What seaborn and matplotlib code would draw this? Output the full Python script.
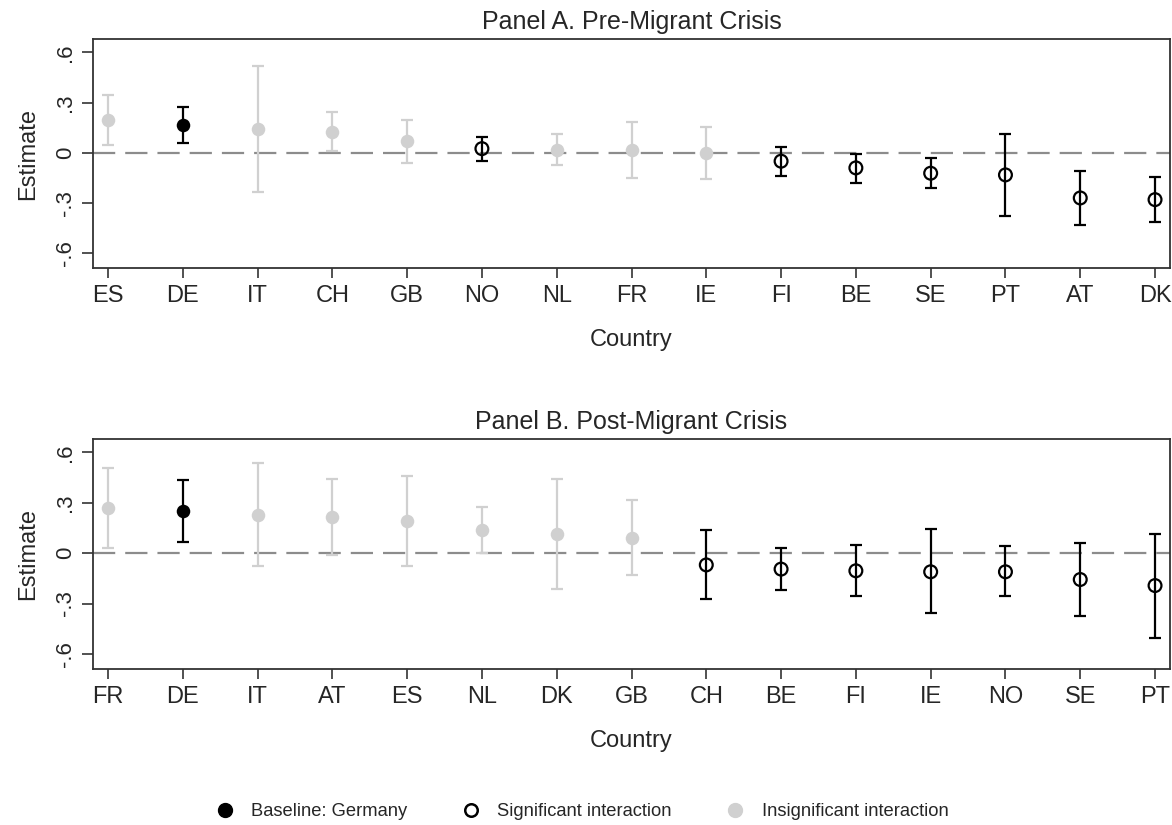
import numpy as np
import pandas as pd
import matplotlib
matplotlib.use("Agg")
import matplotlib.pyplot as plt
from matplotlib.lines import Line2D
import seaborn as sns

# Panel A: pre-migrant crisis estimates with 95% CIs
countries_a = ["ES", "DE", "IT", "CH", "GB", "NO", "NL", "FR", "IE", "FI", "BE", "SE", "PT", "AT", "DK"]
est_a = [0.196, 0.164, 0.139, 0.125, 0.067, 0.024, 0.018, 0.014, -0.002, -0.051, -0.091, -0.123, -0.133, -0.271, -0.281]
lo_a = [0.046, 0.055, -0.236, 0.008, -0.063, -0.051, -0.071, -0.154, -0.158, -0.137, -0.182, -0.214, -0.380, -0.432, -0.416]
hi_a = [0.345, 0.275, 0.517, 0.242, 0.198, 0.093, 0.109, 0.184, 0.154, 0.034, -0.006, -0.030, 0.113, -0.109, -0.143]
status_a = ["ins", "base", "ins", "ins", "ins", "sig", "ins", "ins", "ins", "sig", "sig", "sig", "sig", "sig", "sig"]

# Panel B: post-migrant crisis estimates with 95% CIs
countries_b = ["FR", "DE", "IT", "AT", "ES", "NL", "DK", "GB", "CH", "BE", "FI", "IE", "NO", "SE", "PT"]
est_b = [0.268, 0.250, 0.225, 0.215, 0.193, 0.137, 0.113, 0.093, -0.070, -0.095, -0.105, -0.111, -0.111, -0.157, -0.193]
lo_b = [0.030, 0.066, -0.079, -0.010, -0.074, 0.002, -0.213, -0.129, -0.274, -0.219, -0.258, -0.358, -0.258, -0.372, -0.503]
hi_b = [0.505, 0.435, 0.536, 0.441, 0.461, 0.272, 0.441, 0.316, 0.137, 0.028, 0.050, 0.145, 0.040, 0.060, 0.117]
status_b = ["ins", "base", "ins", "ins", "ins", "ins", "ins", "ins", "sig", "sig", "sig", "sig", "sig", "sig", "sig"]

y_ticks = [0.6, 0.3, 0.0, -0.3, -0.6]
y_ticklabels = [".6", ".3", "0", "-.3", "-.6"]

sns.set_style("white")
plt.rcParams["font.family"] = ["Liberation Sans", "DejaVu Sans"]
plt.rcParams["font.size"] = 16

GRAY = "#d0d0d0"
BLACK = "#000000"
AXIS = "#333333"

fig = plt.figure(figsize=(11.72, 8.25), dpi=100)
ax_a = fig.add_axes([93 / 1172, 1 - 268 / 825, (1170 - 93) / 1172, (268 - 39) / 825])
ax_b = fig.add_axes([93 / 1172, 1 - 669 / 825, (1170 - 93) / 1172, (669 - 439) / 825])


def draw_panel(ax, countries, est, lo, hi, status, title):
    df = pd.DataFrame({"country": countries, "est": est, "lo": lo, "hi": hi, "status": status})
    df["pos"] = np.arange(len(df))

    ax.axhline(0, color="#8c8c8c", lw=1.6, ls=(0, (10, 4.5)), zorder=1)

    for st, col in [("ins", GRAY), ("sig", BLACK), ("base", BLACK)]:
        sub = df[df["status"] == st]
        ax.errorbar(sub["pos"], sub["est"],
                    yerr=[sub["est"] - sub["lo"], sub["hi"] - sub["est"]],
                    fmt="none", ecolor=col, elinewidth=1.6, capsize=4.5, capthick=1.6, zorder=2)

    ins = df[df["status"] == "ins"]
    sns.scatterplot(data=ins, x="pos", y="est", ax=ax, s=95, color=GRAY,
                    edgecolor=GRAY, linewidth=0, zorder=3, legend=False)
    base = df[df["status"] == "base"]
    sns.scatterplot(data=base, x="pos", y="est", ax=ax, s=95, color=BLACK,
                    edgecolor=BLACK, linewidth=0, zorder=3, legend=False)
    sig = df[df["status"] == "sig"]
    sns.scatterplot(data=sig, x="pos", y="est", ax=ax, s=85, facecolor="none",
                    edgecolor=BLACK, linewidth=1.6, zorder=3, legend=False)

    ax.set_xlim(-0.2, len(df) - 1 + 0.2)
    ax.set_ylim(-0.69, 0.68)
    ax.set_xticks(df["pos"])
    ax.set_xticklabels(df["country"], fontsize=17)
    ax.set_yticks(y_ticks)
    ax.set_yticklabels(y_ticklabels, rotation=90, va="center", fontsize=16)
    ax.tick_params(axis="x", direction="out", length=7, width=1.2, color=AXIS, pad=5, bottom=True)
    ax.tick_params(axis="y", direction="out", length=8, width=1.2, color=AXIS, pad=4, left=True)
    ax.set_xlabel("Country", fontsize=17, labelpad=16)
    ax.set_ylabel("Estimate", fontsize=17, labelpad=12)
    ax.set_title(title, fontsize=18, pad=7)
    for sp in ax.spines.values():
        sp.set_visible(True)
        sp.set_color(AXIS)
        sp.set_linewidth(1.3)
    ax.grid(False)


draw_panel(ax_a, countries_a, est_a, lo_a, hi_a, status_a, "Panel A. Pre-Migrant Crisis")
draw_panel(ax_b, countries_b, est_b, lo_b, hi_b, status_b, "Panel B. Post-Migrant Crisis")

handles = [
    Line2D([], [], ls="none", marker="o", markersize=10, markerfacecolor=BLACK, markeredgecolor=BLACK),
    Line2D([], [], ls="none", marker="o", markersize=9, markerfacecolor="none", markeredgecolor=BLACK, markeredgewidth=1.8),
    Line2D([], [], ls="none", marker="o", markersize=10, markerfacecolor=GRAY, markeredgecolor=GRAY),
]
labels = ["Baseline: Germany", "Significant interaction", "Insignificant interaction"]
fig.legend(handles, labels, loc="center", bbox_to_anchor=(580 / 1172, 1 - 812 / 825), ncol=3,
           frameon=False, fontsize=13.2, handlelength=1.4, handletextpad=0.75, columnspacing=2.75)

fig.savefig("out.png", dpi=100, facecolor="white")
